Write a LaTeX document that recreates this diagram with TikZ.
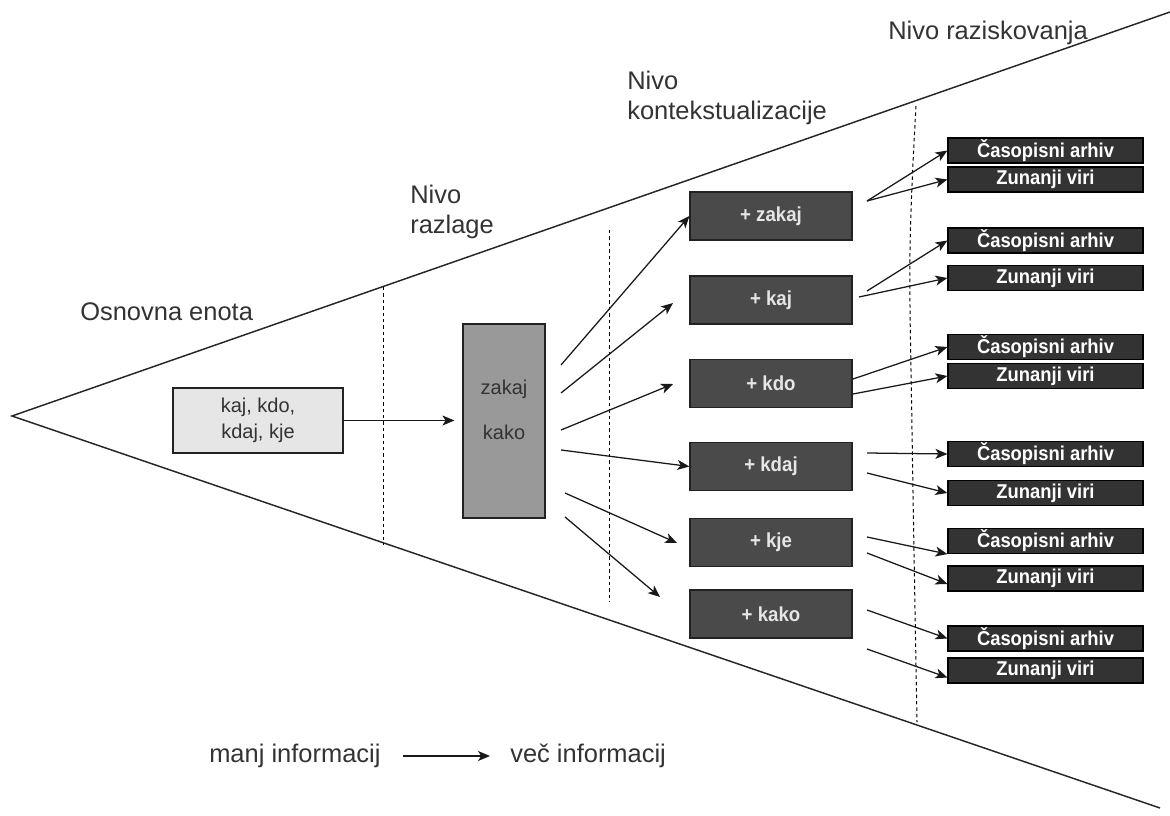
\documentclass[tikz,border=0pt]{standalone}
\usepackage{fontspec}
\setmainfont{Liberation Sans}
\newfontfamily\narrowsans[FakeStretch=0.92]{Liberation Sans}
\usetikzlibrary{arrows.meta,calc}
\definecolor{txt}{HTML}{333333}
\definecolor{lgray}{HTML}{E6E6E6}
\definecolor{mgray}{HTML}{999999}
\definecolor{pgray}{HTML}{4A4A4A}
\definecolor{sgray}{HTML}{333333}
\definecolor{edge}{HTML}{222222}
\tikzset{
  lbl/.style={inner sep=0pt, text=txt, font=\fontsize{19.1}{22.5}\selectfont, align=left, anchor=west},
  kbox/.style={draw=edge, line width=0.9pt, fill=lgray, minimum width=127.5pt, minimum height=48.75pt, inner sep=0pt, text=txt, align=center, font=\fontsize{15}{19.5}\selectfont},
  gbox/.style={draw=edge, line width=0.9pt, fill=mgray, minimum width=61.5pt, minimum height=145.5pt, inner sep=0pt},
  pbox/.style={draw=edge, line width=0.9pt, fill=pgray, minimum width=121.5pt, minimum height=36pt, inner sep=0pt, text=lgray, font=\narrowsans\fontsize{15.2}{17}\selectfont\bfseries},
  sbox/.style={draw=black, line width=0.9pt, fill=sgray, minimum width=146.25pt, minimum height=18.75pt, inner sep=0pt, text=white, font=\narrowsans\fontsize{15}{16}\selectfont\bfseries},
  arr/.style={draw=black!90, line width=0.95pt, -{Stealth[length=9pt, width=7.5pt, inset=2.4pt]}},
  tri/.style={draw=black!85, line width=1.1pt},
  sep/.style={draw=black, line width=0.75pt, dash pattern=on 2.6pt off 2.2pt},
}
\begin{document}
\begin{tikzpicture}[x=0.75pt, y=-0.75pt]
\useasboundingbox (0,0) rectangle (1170,816);
% triangle
\coordinate (top) at (1170,12);
\coordinate (apex) at (12,416);
\coordinate (bot) at (1160,808);
\draw[tri] (top) -- (apex) -- (bot);
% separators
\coordinate (d1a) at (383,287); \coordinate (d1b) at (383,545);
\coordinate (d2a) at (609,230); \coordinate (d2b) at (609,602);
\draw[sep] (d1a) -- (d1b);
\draw[sep] (d2a) -- (d2b);
\draw[sep] plot[smooth, tension=0.6] coordinates {(916,106) (910,250) (912,430) (917,722)};
% labels
\node[lbl] (osn) at (80,312) {Osnovna enota};
\node[lbl] (razl) at (410,212) {Nivo\\razlage};
\node[lbl] (kont) at (627,98) {Nivo\\kontekstualizacije};
\node[lbl] (razi) at (888,33) {Nivo raziskovanja};
% main boxes
\node[kbox] (kaj) at (258,420.5) {kaj, kdo,\\kdaj, kje};
\node[gbox] (zk) at (504,421) {};
\node[inner sep=0pt, text=txt, align=center, font=\fontsize{15}{33.75}\selectfont] (zktxt) at (504,409.5) {zakaj\\kako};
\draw[arr, shorten >=6pt] (kaj.east) -- (kaj.east -| zk.west);
% plus boxes
\node[pbox] (p1) at (771,216) {+ zakaj};
\node[pbox] (p2) at (771,300) {+ kaj};
\node[pbox] (p3) at (771,383.5) {+ kdo};
\node[pbox] (p4) at (771,466.5) {+ kdaj};
\node[pbox] (p5) at (771,542.5) {+ kje};
\node[pbox] (p6) at (771,614) {+ kako};
% left arrows
\coordinate (l1) at (561,365);
\coordinate (l2) at (561,393); \coordinate (e2) at (673,303);
\coordinate (l3) at (561,430); \coordinate (e3) at (673,384);
\coordinate (l4) at (561,450);
\coordinate (l5) at (565,493); \coordinate (e5) at (677,543);
\coordinate (l6) at (565,517); \coordinate (e6) at (660,597);
\draw[arr] (l1) -- (p1.west);
\draw[arr] (l2) -- (e2);
\draw[arr] (l3) -- (e3);
\draw[arr] (l4) -- (p4.west);
\draw[arr] (l5) -- (e5);
\draw[arr] (l6) -- (e6);
% source boxes
\node[sbox] (c1) at (1045.5,150.5) {Časopisni arhiv};
\node[sbox] (z1) at (1045.5,179.5) {Zunanji viri};
\node[sbox] (c2) at (1045.5,240.5) {Časopisni arhiv};
\node[sbox] (z2) at (1045.5,278) {Zunanji viri};
\node[sbox] (c3) at (1045.5,347) {Časopisni arhiv};
\node[sbox] (z3) at (1045.5,376) {Zunanji viri};
\node[sbox] (c4) at (1045.5,454) {Časopisni arhiv};
\node[sbox] (z4) at (1045.5,493) {Zunanji viri};
\node[sbox] (c5) at (1045.5,541) {Časopisni arhiv};
\node[sbox] (z5) at (1045.5,578.5) {Zunanji viri};
\node[sbox] (c6) at (1045.5,638.5) {Časopisni arhiv};
\node[sbox] (z6) at (1045.5,670.5) {Zunanji viri};
% right arrows
\coordinate (s1) at (867,201);
\coordinate (s2a) at (867,291); \coordinate (s2b) at (859,297);
\coordinate (s3a) at (853,379); \coordinate (s3b) at (853,394);
\coordinate (s4a) at (867,453); \coordinate (s4b) at (867,473);
\coordinate (s5a) at (867,537); \coordinate (s5b) at (867,553);
\coordinate (s6a) at (867,610); \coordinate (s6b) at (867,649);
\draw[arr] (s1) -- (c1.west);
\draw[arr] (s1) -- (z1.west);
\draw[arr] (s2a) -- (c2.west);
\draw[arr] (s2b) -- (z2.west);
\draw[arr] (s3a) -- (c3.west);
\draw[arr] (s3b) -- (z3.west);
\draw[arr] (s4a) -- (c4.west);
\draw[arr] (s4b) -- (z4.west);
\draw[arr] (s5a) -- (c5.south west);
\draw[arr] (s5b) -- ($(z5.west)+(0,5.5)$);
\draw[arr] (s6a) -- (c6.west);
\draw[arr] (s6b) -- ($(z6.west)+(0,7)$);
% legend
\node[lbl] (manj) at (209,756) {manj informacij};
\node[lbl] (vec) at (510,756) {več informacij};
\draw[arr, shorten <=17pt, shorten >=15pt] (manj.east) -- (vec.west);
\end{tikzpicture}
\end{document}
